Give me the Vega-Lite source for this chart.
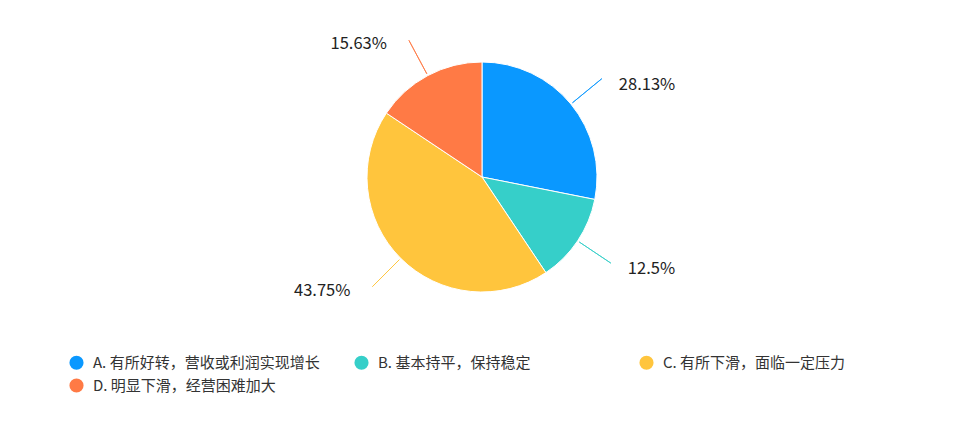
{
  "$schema": "https://vega.github.io/schema/vega-lite/v6.json",
  "width": 964,
  "height": 354,
  "padding": 0,
  "autosize": {"type": "pad"},
  "background": "white",
  "config": {"view": {"stroke": null}},
  "data": {
    "values": [
      {"category": "A. 有所好转，营收或利润实现增长", "value": 28.13, "label": "28.13%", "side": "right"},
      {"category": "B. 基本持平，保持稳定", "value": 12.5, "label": "12.5%", "side": "right"},
      {"category": "C. 有所下滑，面临一定压力", "value": 43.75, "label": "43.75%", "side": "left"},
      {"category": "D. 明显下滑，经营困难加大", "value": 15.63, "label": "15.63%", "side": "left"}
    ]
  },
  "encoding": {
    "theta": {"field": "value", "type": "quantitative", "stack": true},
    "order": {"field": "category", "type": "ordinal"},
    "color": {
      "field": "category",
      "type": "nominal",
      "scale": {
        "domain": ["A. 有所好转，营收或利润实现增长", "B. 基本持平，保持稳定", "C. 有所下滑，面临一定压力", "D. 明显下滑，经营困难加大"],
        "range": ["#0a98ff", "#36cfc9", "#ffc53d", "#ff7a45"]
      },
      "legend": {
        "title": null,
        "orient": "none",
        "legendX": 69,
        "legendY": 355,
        "direction": "horizontal",
        "columns": 3,
        "gridAlign": "all",
        "columnPadding": 34,
        "rowPadding": 7,
        "symbolType": "circle",
        "symbolSize": 200,
        "symbolStrokeWidth": 0,
        "symbolOpacity": 1,
        "labelFont": "Noto Sans CJK SC",
        "labelFontSize": 15,
        "labelColor": "#333333",
        "labelOffset": 9,
        "labelLimit": 400
      }
    }
  },
  "layer": [
    {"mark": {"type": "arc", "outerRadius": 115, "stroke": "white", "strokeWidth": 1}},
    {"mark": {"type": "arc", "outerRadius": 155, "innerRadius": 117, "padAngle": 3.1, "filled": false, "strokeWidth": 1, "strokeOpacity": 0.85}},
    {
      "mark": {"type": "text", "radius": 155, "align": "left", "baseline": "middle", "dx": 17, "dy": 6, "font": "Noto Sans CJK SC", "fontSize": 16.5},
      "encoding": {
        "text": {"condition": {"test": "datum.side === 'right'", "field": "label"}, "value": ""},
        "fill": {"value": "#222222"}
      }
    },
    {
      "mark": {"type": "text", "radius": 155, "align": "right", "baseline": "middle", "dx": -22, "dy": 4, "font": "Noto Sans CJK SC", "fontSize": 16.5},
      "encoding": {
        "text": {"condition": {"test": "datum.side === 'left'", "field": "label"}, "value": ""},
        "fill": {"value": "#222222"}
      }
    }
  ]
}
